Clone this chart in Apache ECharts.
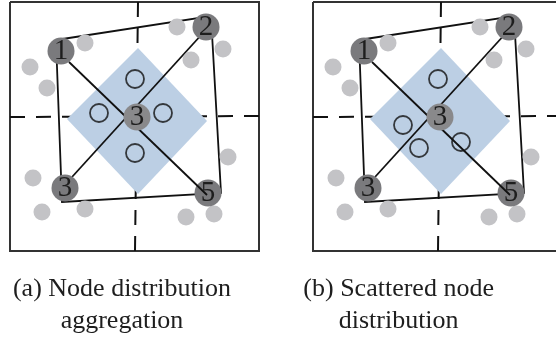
<!DOCTYPE html>
<html>
<head>
<meta charset="utf-8">
<script src="https://cdn.jsdelivr.net/npm/echarts@6/dist/echarts.min.js"></script>
<style>
  html, body { margin: 0; padding: 0; background: #fff; }
  #chart { width: 556px; height: 349px; }
</style>
</head>
<body>
<div id="chart"></div>
<script>
// Panel-local layout (pixel-like units); panel (b) is the same frame shifted right.
const panelShift = [0, 303];
const captions = ['(a) Node distribution\naggregation', '(b) Scattered node\ndistribution'];

const frameBox = [[10, 2], [259, 2], [259, 251], [10, 251], [10, 2]];
const crossVertical = [[138, 2], [135, 251]];
const crossHorizontal = [[10, 117], [259, 116]];
const coverDiamond = [[138, 48], [207, 121], [138, 194], [67, 119]];
const clusterQuad = [[56, 40], [211, 16], [221, 193], [62, 202], [56, 40]];
const diagonalA = [[69, 62], [207, 195]];   // node 1 -> node 5
const diagonalB = [[72, 177], [203, 33]];   // node 3 -> node 2

const headNames = ['1', '2', '3', '5'];
const headPoints = [[61, 51], [206, 27], [65, 188], [208, 193]];
const centerName = '3';
const centerPoint = [137, 117];

const otherNodes = [
  [85, 43], [177, 27], [223, 49], [191, 60], [30, 67], [47, 88],
  [228, 157], [33, 178], [42, 212], [85, 209], [186, 217], [214, 214]
];
const hollowA = [[135, 79], [99, 113], [163, 113], [135, 153]];
const hollowB = [[135, 79], [100, 125], [116, 148], [158, 142]];
const hollowSets = [hollowA, hollowB];

const shiftPt = (p, dx) => [p[0] + dx, p[1]];
const shiftPath = (path, dx) => path.map(p => shiftPt(p, dx));

const series = [];
panelShift.forEach((dx, i) => {
  // outer frame
  series.push({
    type: 'lines', coordinateSystem: 'cartesian2d', polyline: true, z: 1, silent: true,
    lineStyle: { color: '#333', width: 2, opacity: 1 },
    data: [{ coords: shiftPath(frameBox, dx) }]
  });
  // dashed quadrant divisions
  series.push({
    type: 'lines', coordinateSystem: 'cartesian2d', z: 2, silent: true,
    lineStyle: { color: '#111', width: 2, opacity: 1, type: [15, 11] },
    data: [{ coords: shiftPath(crossVertical, dx) }, { coords: shiftPath(crossHorizontal, dx) }]
  });
  // shaded coverage diamond
  series.push({
    type: 'custom', coordinateSystem: 'cartesian2d', z: 3, silent: true,
    data: [[dx]],
    renderItem: (params, api) => ({
      type: 'polygon',
      shape: { points: coverDiamond.map(p => api.coord(shiftPt(p, api.value(0)))) },
      style: { fill: '#bccfe4' }
    })
  });
  // links between cluster heads
  series.push({
    type: 'lines', coordinateSystem: 'cartesian2d', polyline: true, z: 4, silent: true,
    lineStyle: { color: '#111', width: 1.8, opacity: 1 },
    data: [{ coords: shiftPath(clusterQuad, dx) }, { coords: shiftPath(diagonalB, dx) }]
  });
  // ordinary nodes
  series.push({
    type: 'scatter', z: 4, silent: true, symbolSize: 17,
    itemStyle: { color: '#c3c3c6', opacity: 1 },
    data: otherNodes.map(p => shiftPt(p, dx))
  });
  // candidate positions
  series.push({
    type: 'scatter', z: 5, silent: true, symbol: 'circle', symbolSize: 18,
    itemStyle: { color: 'rgba(0,0,0,0)', borderColor: '#111', borderWidth: 1.8 },
    data: hollowSets[i].map(p => shiftPt(p, dx))
  });
  // cluster heads
  series.push({
    type: 'scatter', z: 6, silent: true, symbolSize: 27,
    itemStyle: { color: '#7a7a7d', opacity: 1 },
    label: {
      show: true, position: 'inside', formatter: p => p.name,
      fontFamily: 'Liberation Serif', fontSize: 29, color: '#1e1e1e'
    },
    data: headNames.map((n, k) => ({ name: n, value: shiftPt(headPoints[k], dx) }))
  });
  series.push({
    type: 'lines', coordinateSystem: 'cartesian2d', z: 7, silent: true,
    lineStyle: { color: '#111', width: 1.8, opacity: 1 },
    data: [{ coords: shiftPath(diagonalA, dx) }]
  });
  // central node
  series.push({
    type: 'scatter', z: 8, silent: true, symbolSize: 27,
    itemStyle: { color: '#89898b', opacity: 1 },
    label: {
      show: true, position: 'inside', formatter: p => p.name,
      fontFamily: 'Liberation Serif', fontSize: 29, color: '#1e1e1e'
    },
    data: [{ name: centerName, value: shiftPt(centerPoint, dx) }]
  });
});

const chart = echarts.init(document.getElementById('chart'), null, { renderer: 'canvas' });
chart.setOption({
  animation: false,
  backgroundColor: '#fff',
  grid: { left: 0, right: 0, top: 0, bottom: 0 },
  xAxis: { type: 'value', min: 0, max: 556, show: false },
  yAxis: { type: 'value', min: 0, max: 349, inverse: true, show: false },
  graphic: captions.map((t, i) => ({
    type: 'text',
    x: 122 + panelShift[i] * 0.913, y: 273,
    style: {
      text: t, textAlign: 'center', fill: '#1e1e1e',
      font: '26px "Liberation Serif"', lineHeight: 32
    }
  })),
  series: series
});
</script>
</body>
</html>
